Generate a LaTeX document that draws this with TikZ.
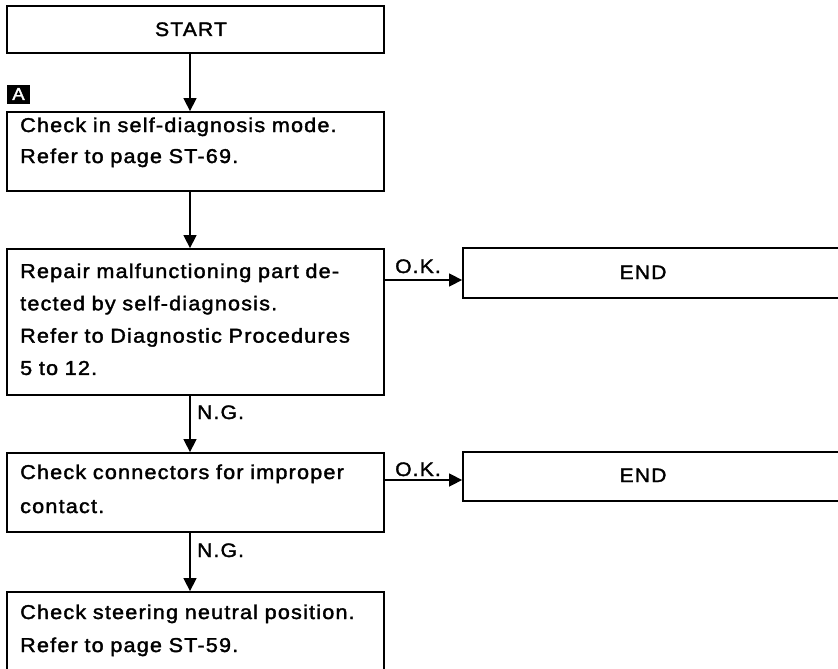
\documentclass[tikz,border=0pt]{standalone}
\usepackage{fontspec}
\setmainfont{Liberation Sans}[LetterSpace=6, FakeStretch=1.08, FakeBold=1.8]
\usetikzlibrary{arrows.meta}
\begin{document}
\begin{tikzpicture}[x=1pt,y=-1pt,
  box/.style={draw, line width=1.8pt, inner sep=0pt, rectangle},
  txt/.style={anchor=base west, inner sep=0pt, text width=380pt, align=left,
    font=\fontsize{20pt}{#1pt}\selectfont},
  txt/.default=32,
  lbl/.style={anchor=base west, inner sep=0pt, font=\fontsize{19.5pt}{22pt}\selectfont},
  ctr/.style={anchor=base, inner sep=0pt, font=\fontsize{19.5pt}{22pt}\selectfont},
  tag/.style={fill=black, text=white, inner sep=0pt, minimum width=23pt, minimum height=19pt,
    font=\fontsize{17pt}{17pt}\selectfont},
  arr/.style={line width=1.5pt, -{Triangle[length=13pt,width=13pt]}}]
\clip (0,0) rectangle (838,669);
% boxes
\node[box, minimum width=377pt, minimum height=47pt] (start) at (195.5,29.5) {};
\node[box, minimum width=377pt, minimum height=79pt] (b1) at (195.5,151.5) {};
\node[box, minimum width=377pt, minimum height=146pt] (b2) at (195.5,322) {};
\node[box, minimum width=377pt, minimum height=79pt] (b3) at (195.5,492.5) {};
\node[box, minimum width=377pt, minimum height=108pt] (b4) at (195.5,646) {};
\node[box, minimum width=387pt, minimum height=50pt] (e1) at (656.5,273) {};
\node[box, minimum width=387pt, minimum height=49pt] (e2) at (656.5,476.5) {};
% texts
\node[ctr] (tstart) at (191,36) {START};
\node[txt=31] (t1) at (20,132) {Check in self-diagnosis mode.\\Refer to page ST-69.};
\node[txt=32.3] (t2) at (20,278) {Repair malfunctioning part de-\\tected by self-diagnosis.\\Refer to Diagnostic Procedures\\5 to 12.};
\node[txt=34] (t3) at (20,479) {Check connectors for improper\\contact.};
\node[txt=33] (t4) at (20,619) {Check steering neutral position.\\Refer to page ST-59.};
\node[ctr] (te1) at (643,279) {END};
\node[ctr] (te2) at (643,482) {END};
\node[tag] (tagA) at (18.5,94) {A};
% connector geometry
\coordinate (ax) at (190,0);
\coordinate (ok1) at (0,280);
\coordinate (ok2) at (0,480);
% connectors
\draw[arr] (start.south -| ax) -- (b1.north -| ax);
\draw[arr] (b1.south -| ax) -- (b2.north -| ax);
\draw[arr] (b2.south -| ax) -- (b3.north -| ax);
\draw[arr] (b3.south -| ax) -- (b4.north -| ax);
\draw[arr] (b2.east |- ok1) -- (e1.west |- ok1);
\draw[arr] (b3.east |- ok2) -- (e2.west |- ok2);
% labels
\node[lbl] (ok1l) at (395,273) {O.K.};
\node[lbl] (ok2l) at (395,476) {O.K.};
\node[lbl] (ng1l) at (197,419) {N.G.};
\node[lbl] (ng2l) at (197,557) {N.G.};
\end{tikzpicture}
\end{document}
